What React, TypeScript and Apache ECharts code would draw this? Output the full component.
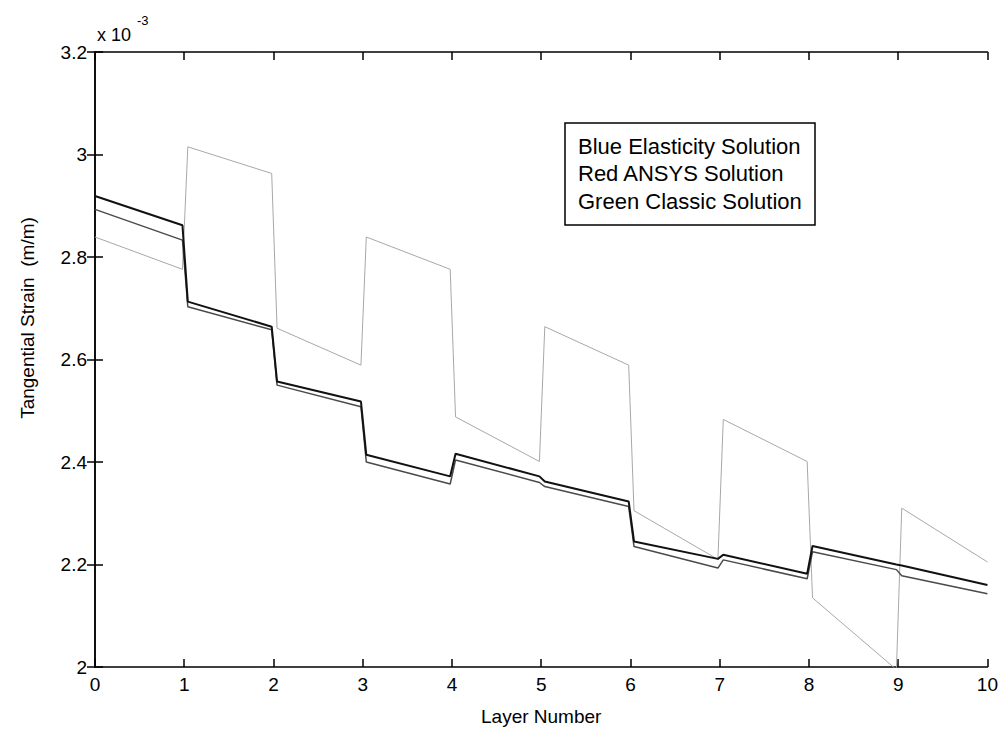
import React, { useEffect, useRef } from "react";
import * as echarts from "echarts";

// values in units of 1e-3 (m/m); per layer: value at layer start and layer end
const layers = [0, 1, 2, 3, 4, 5, 6, 7, 8, 9];
const blueStart = [2.919, 2.713, 2.557, 2.414, 2.416, 2.362, 2.245, 2.219, 2.236, 2.198];
const blueEnd = [2.862, 2.664, 2.518, 2.372, 2.372, 2.323, 2.211, 2.182, 2.2, 2.16];
const redStart = [2.893, 2.703, 2.55, 2.4, 2.404, 2.352, 2.235, 2.209, 2.225, 2.178];
const redEnd = [2.833, 2.658, 2.508, 2.357, 2.36, 2.313, 2.193, 2.172, 2.19, 2.143];
const greenStart = [2.839, 3.015, 2.661, 2.839, 2.488, 2.664, 2.305, 2.483, 2.135, 2.31];
const greenEnd = [2.776, 2.963, 2.589, 2.776, 2.401, 2.589, 2.21, 2.401, 1.995, 2.205];
const legendLines = ["Blue Elasticity Solution", "Red ANSYS Solution", "Green Classic Solution"];
const xTicks = [0, 10, 1];
const yTicks = [2, 3.2, 0.2];

const FONT = "'Liberation Sans', Arial, Helvetica, sans-serif";

function buildSeries(starts: number[], ends: number[]) {
  const pts: [number, number][] = [];
  layers.forEach((l, i) => {
    const xs = l === 0 ? 0 : l + 0.04;
    const xe = l === 9 ? 10 : l + 0.98;
    pts.push([xs, starts[i]]);
    pts.push([xe, ends[i]]);
  });
  return pts;
}

export default function App() {
  const ref = useRef<HTMLDivElement>(null);
  useEffect(() => {
    if (!ref.current) return;
    const chart = echarts.init(ref.current, null, { renderer: "svg" });
    const axisCommon = {
      type: "value" as const,
      axisLine: { show: true, lineStyle: { color: "#000", width: 1.5 } },
      axisTick: { show: true, inside: true, length: 8, lineStyle: { color: "#000", width: 1.5 } },
      splitLine: { show: false },
    };
    const fmt = (v: number) => String(+v.toFixed(1));
    chart.setOption({
      animation: false,
      backgroundColor: "#fff",
      grid: { left: 95, top: 52, right: 13, bottom: 67 },
      xAxis: [
        {
          ...axisCommon,
          min: xTicks[0],
          max: xTicks[1],
          interval: xTicks[2],
          position: "bottom",
          axisLabel: { color: "#000", fontSize: 19, fontFamily: FONT, margin: 8, formatter: fmt },
          name: "Layer Number",
          nameLocation: "middle",
          nameGap: 40,
          nameTextStyle: { color: "#000", fontSize: 19, fontFamily: FONT },
        },
        {
          ...axisCommon,
          min: xTicks[0],
          max: xTicks[1],
          interval: xTicks[2],
          position: "top",
          axisLabel: { show: false },
        },
      ],
      yAxis: [
        {
          ...axisCommon,
          min: yTicks[0],
          max: yTicks[1],
          interval: yTicks[2],
          position: "left",
          axisLabel: { color: "#000", fontSize: 19, fontFamily: FONT, margin: 8, formatter: fmt },
        },
        {
          ...axisCommon,
          min: yTicks[0],
          max: yTicks[1],
          interval: yTicks[2],
          position: "right",
          axisLabel: { show: false },
        },
      ],
      series: [
        {
          name: "Green Classic Solution",
          type: "line",
          data: buildSeries(greenStart, greenEnd),
          showSymbol: false,
          clip: true,
          lineStyle: { color: "#a8a8a8", width: 1 },
        },
        {
          name: "Red ANSYS Solution",
          type: "line",
          data: buildSeries(redStart, redEnd),
          showSymbol: false,
          clip: true,
          lineStyle: { color: "#4a4a4a", width: 1.5 },
        },
        {
          name: "Blue Elasticity Solution",
          type: "line",
          data: buildSeries(blueStart, blueEnd),
          showSymbol: false,
          clip: true,
          lineStyle: { color: "#111", width: 2 },
        },
      ],
      graphic: [
        {
          type: "rect",
          shape: { x: 565, y: 123, width: 250, height: 102 },
          style: { fill: "#fff", stroke: "#000", lineWidth: 1.5 },
          z: 10,
        },
        ...legendLines.map((t, i) => ({
          type: "text",
          x: 578,
          y: 146 + i * 27.5,
          z: 11,
          style: {
            text: t,
            fill: "#000",
            font: `22px ${FONT}`,
            verticalAlign: "middle",
            align: "left",
          },
        })),
        {
          type: "text",
          x: 97,
          y: 35,
          style: { text: "x 10", fill: "#000", font: `18px ${FONT}`, verticalAlign: "middle" },
        },
        {
          type: "text",
          x: 137,
          y: 20,
          style: { text: "-3", fill: "#000", font: `13px ${FONT}`, verticalAlign: "middle" },
        },
        {
          type: "text",
          x: 27,
          y: 318,
          rotation: Math.PI / 2,
          style: {
            text: "Tangential Strain  (m/m)",
            fill: "#000",
            font: `19px ${FONT}`,
            align: "center",
            verticalAlign: "middle",
          },
        },
      ],
    });
    return () => chart.dispose();
  }, []);
  return (
    <div
      ref={ref}
      style={{ position: "absolute", left: 0, top: 0, width: 1001, height: 734, background: "#fff" }}
    />
  );
}
